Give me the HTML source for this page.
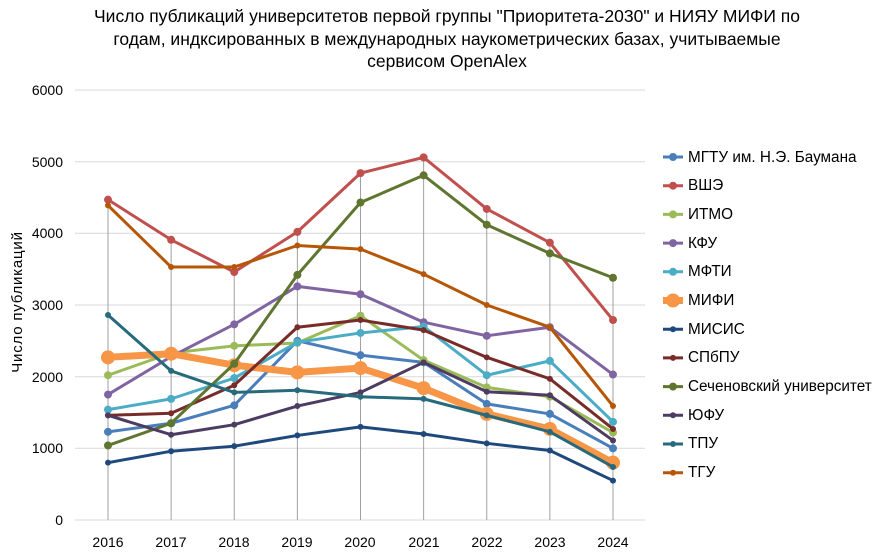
<!DOCTYPE html>
<html><head><meta charset="utf-8"><style>
body{margin:0;background:#fff;width:894px;height:554px;overflow:hidden;font-family:"Liberation Sans",sans-serif}
</style></head><body>
<svg id="s" width="894" height="554" xmlns="http://www.w3.org/2000/svg" font-family="Liberation Sans, sans-serif">
<g font-size="17.5" fill="#000" text-anchor="middle">
<text x="447" y="22">Число публикаций университетов первой группы "Приоритета-2030" и НИЯУ МИФИ по</text>
<text x="447" y="45">годам, индксированных в международных наукометрических базах, учитываемые</text>
<text x="447" y="67">сервисом OpenAlex</text>
</g>
<g stroke="#d9d9d9" stroke-width="1">
<line x1="75" x2="645" y1="90" y2="90"/><line x1="75" x2="645" y1="161.7" y2="161.7"/>
<line x1="75" x2="645" y1="233.3" y2="233.3"/><line x1="75" x2="645" y1="305" y2="305"/>
<line x1="75" x2="645" y1="376.7" y2="376.7"/><line x1="75" x2="645" y1="448.3" y2="448.3"/>
<line x1="75" x2="645" y1="520" y2="520"/>
</g>
<g id="v" stroke="#a0a0a0" stroke-width="1"></g>
<g font-size="14" fill="#000" text-anchor="end">
<text x="63" y="95">6000</text><text x="63" y="167">5000</text><text x="63" y="238">4000</text>
<text x="63" y="310">3000</text><text x="63" y="382">2000</text><text x="63" y="453">1000</text><text x="63" y="525">0</text>
</g>
<g font-size="14" fill="#000" text-anchor="middle">
<text x="108" y="547">2016</text><text x="171" y="547">2017</text><text x="234" y="547">2018</text>
<text x="297" y="547">2019</text><text x="360" y="547">2020</text><text x="424" y="547">2021</text>
<text x="487" y="547">2022</text><text x="550" y="547">2023</text><text x="613" y="547">2024</text>
</g>
<text transform="translate(22,302) rotate(-90)" font-size="15" letter-spacing="0.8" text-anchor="middle">Число публикаций</text>
<g id="lines"></g>
<g id="leg"></g>
<g font-size="15.3" fill="#000">
<text x="688" y="162">МГТУ им. Н.Э. Баумана</text>
<text x="688" y="190">ВШЭ</text>
<text x="688" y="219">ИТМО</text>
<text x="688" y="248">КФУ</text>
<text x="688" y="276">МФТИ</text>
<text x="688" y="305">МИФИ</text>
<text x="688" y="334">МИСИС</text>
<text x="688" y="362">СПбПУ</text>
<text x="688" y="391">Сеченовский университет</text>
<text x="688" y="420">ЮФУ</text>
<text x="688" y="448">ТПУ</text>
<text x="688" y="477">ТГУ</text>
</g>
</svg>
<script>
var S=[
["#4a7ebb",[1230,1350,1600,2500,2300,2200,1620,1480,1000],3,4],
["#c0504d",[4470,3910,3460,4020,4840,5060,4340,3870,2790],3,4],
["#9bbb59",[2020,2330,2430,2470,2850,2230,1850,1720,1220],3,4],
["#8064a2",[1750,2280,2730,3260,3150,2760,2570,2690,2030],3,4],
["#4bacc6",[1540,1690,1980,2480,2610,2700,2020,2220,1370],3,4],
["#f79646",[2270,2320,2160,2060,2120,1840,1480,1270,800],7,7],
["#1f497d",[800,960,1030,1180,1300,1200,1070,970,550],3,3],
["#772c2a",[1460,1490,1880,2690,2790,2650,2270,1970,1270],3,3],
["#5f7530",[1040,1350,2180,3420,4430,4810,4120,3720,3380],3,4],
["#4d3b62",[1460,1190,1330,1590,1780,2200,1790,1740,1110],3,3],
["#276a7c",[2860,2080,1780,1810,1720,1690,1460,1230,740],3,3],
["#b65708",[4390,3530,3530,3830,3780,3430,3000,2690,1590],3,3]];
var ns="http://www.w3.org/2000/svg",L=document.getElementById("lines"),G=document.getElementById("leg"),V=document.getElementById("v");
function X(i){return 108+i*63.125}function Y(v){return 520-v*0.071667}
for(var i=0;i<9;i++){var l=document.createElementNS(ns,"line");l.setAttribute("x1",X(i));l.setAttribute("x2",X(i));l.setAttribute("y1",Y(S.reduce(function(m,s){return Math.max(m,s[1][i])},0)));l.setAttribute("y2",520);V.appendChild(l);}
S.forEach(function(s,k){var p=s[1].map(function(v,i){return X(i)+","+Y(v)}).join(" ");
var pl=document.createElementNS(ns,"polyline");pl.setAttribute("points",p);pl.setAttribute("fill","none");pl.setAttribute("stroke",s[0]);pl.setAttribute("stroke-width",s[2]);pl.setAttribute("stroke-linejoin","round");L.appendChild(pl);
s[1].forEach(function(v,i){var c=document.createElementNS(ns,"circle");c.setAttribute("cx",X(i));c.setAttribute("cy",Y(v));c.setAttribute("r",s[3]);c.setAttribute("fill",s[0]);L.appendChild(c);});
var y=157+k*28.7;var ll=document.createElementNS(ns,"line");ll.setAttribute("x1",663);ll.setAttribute("x2",683);ll.setAttribute("y1",y);ll.setAttribute("y2",y);ll.setAttribute("stroke",s[0]);ll.setAttribute("stroke-width",s[2]);G.appendChild(ll);
var c=document.createElementNS(ns,"circle");c.setAttribute("cx",673);c.setAttribute("cy",y);c.setAttribute("r",s[3]);c.setAttribute("fill",s[0]);G.appendChild(c);});
</script>
</body></html>
